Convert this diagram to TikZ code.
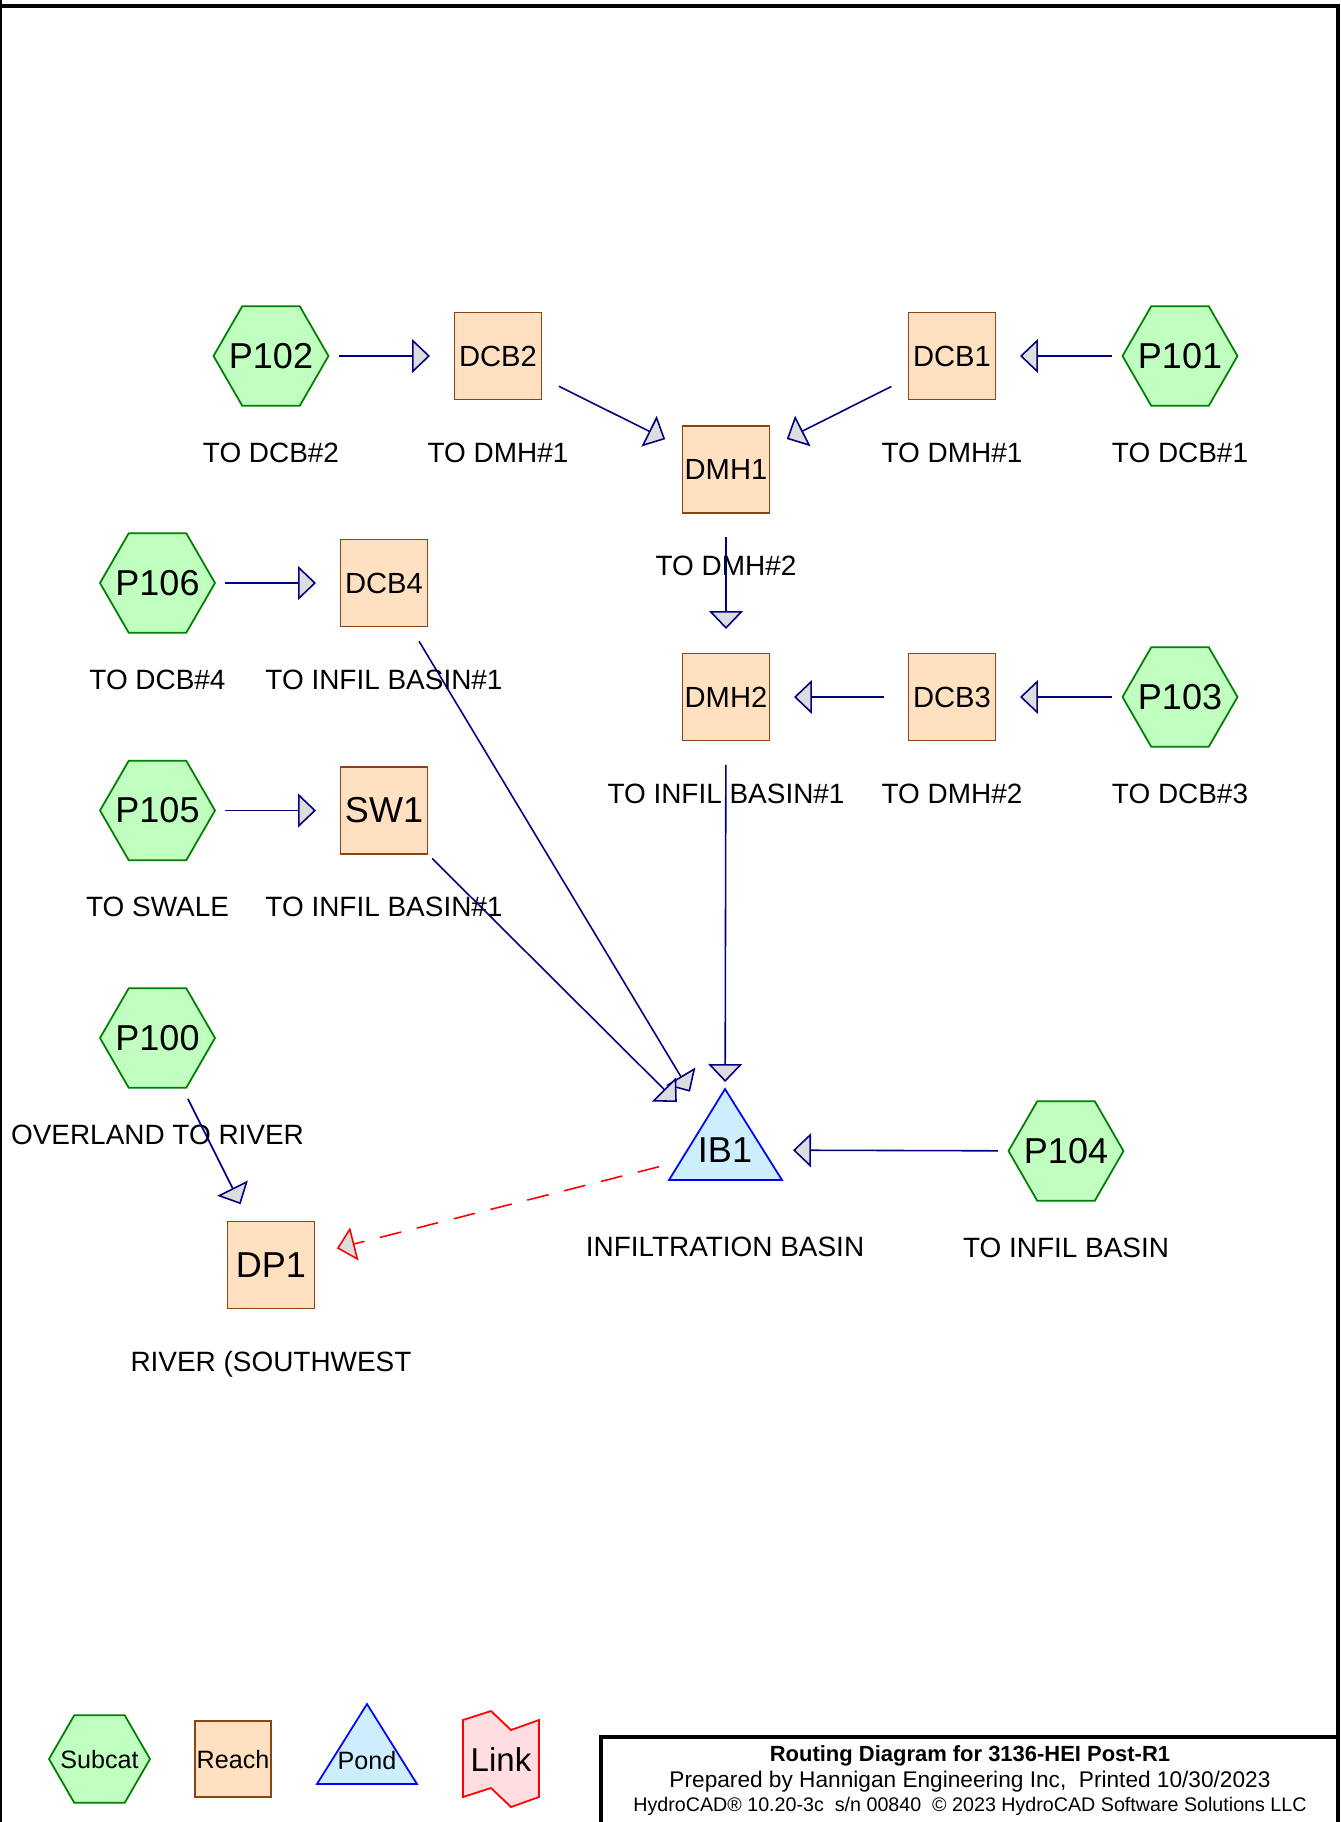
\documentclass[tikz,border=0pt]{standalone}
\usepackage{fontspec}
\setmainfont{Liberation Sans}
\usetikzlibrary{arrows.meta,shapes.geometric}
\definecolor{subfill}{HTML}{C0FFC0}
\definecolor{subdraw}{HTML}{008000}
\definecolor{reachfill}{HTML}{FFE0C0}
\definecolor{reachdraw}{HTML}{8B4513}
\definecolor{pondfill}{HTML}{CCEEFF}
\definecolor{pondblue}{HTML}{0000FF}
\definecolor{linkfill}{HTML}{FFDDE0}
\definecolor{flownavy}{HTML}{000080}
\definecolor{headgray}{HTML}{DDDDDD}
\tikzset{
  subcat/.style={regular polygon, regular polygon sides=6, draw=subdraw, fill=subfill, line width=1pt, minimum size=2.3cm, inner sep=0pt},
  subtxt/.style={font=\fontsize{20.5pt}{24pt}\selectfont, inner sep=0pt},
  reach/.style={rectangle, draw=reachdraw, fill=reachfill, line width=1pt, minimum size=1.74cm, inner sep=0pt, font=\fontsize{16.6pt}{19pt}\selectfont},
  bigreach/.style={reach, font=\fontsize{20.5pt}{24pt}\selectfont},
  pond/.style={draw=pondblue, fill=pondfill, line width=1pt},
  linkshape/.style={draw=red, fill=linkfill, line width=1pt},
  lbl/.style={font=\fontsize{15.9pt}{19pt}\selectfont, inner sep=0pt, text height=0.4cm, text depth=0pt},
  legendtxt/.style={font=\fontsize{14.3pt}{17pt}\selectfont, inner sep=0pt},
  flow/.style={draw=flownavy, line width=0.9pt, shorten <=1.36cm, shorten >=1.36cm, -{Triangle[length=0.36cm, width=0.68cm, fill=headgray]}},
  outflow/.style={flow, draw=red, dash pattern=on 0.44cm off 0.32cm},
  frame/.style={line width=2.3pt}
}
\begin{document}
\begin{tikzpicture}[x=0.02cm, y=0.02cm]
  \useasboundingbox (0,0) rectangle (1340,-1822);
  \draw[line width=0.85pt] (1,0) -- (1,-1822);
  \draw[frame] (0,-6) -- (1338,-6) -- (1338,-1822);

  % subcatchments
  \foreach \n/\x/\y/\t in {P102/271/356/TO DCB\#2, P101/1180/356/TO DCB\#1, P106/157.5/583/TO DCB\#4,
      P103/1180/697/TO DCB\#3, P105/157.5/810.5/TO SWALE, P100/157.5/1038/OVERLAND TO RIVER,
      P104/1066/1151/TO INFIL BASIN} {
    \node[subcat, label={[subtxt]center:\n}] (\n) at (\x,-\y) {};
    \node[lbl] (\n-lbl) at (\x,-\y-96) {\t};
  }

  % reaches
  \foreach \n/\x/\y/\t in {DCB2/498/356/TO DMH\#1, DCB1/952/356/TO DMH\#1, DMH1/726/469.5/TO DMH\#2,
      DCB4/384/583/TO INFIL BASIN\#1, DMH2/726/697/TO INFIL BASIN\#1, DCB3/952/697/TO DMH\#2} {
    \node[reach] (\n) at (\x,-\y) {\n};
    \node[lbl] (\n-lbl) at (\x,-\y-96) {\t};
  }
  \node[bigreach] (SW1) at (384,-810.5) {SW1};
  \node[lbl] (SW1-lbl) at (384,-906.5) {TO INFIL BASIN\#1};
  \node[bigreach] (DP1) at (271,-1265) {DP1};
  \node[lbl] (DP1-lbl) at (271,-1361) {RIVER (SOUTHWEST};

  % pond
  \draw[pond] (669,-1180) -- (725,-1089) -- (782,-1180) -- cycle;
  \node[font=\fontsize{20.5pt}{24pt}\selectfont, inner sep=0pt] (IB1) at (725,-1150) {IB1};
  \node[lbl] (IB1-lbl) at (725,-1246) {INFILTRATION BASIN};

  \foreach \a/\b in {P102/DCB2, DCB2/DMH1, P101/DCB1, DCB1/DMH1, DMH1/DMH2, P106/DCB4, DCB4/IB1,
      P103/DCB3, DCB3/DMH2, DMH2/IB1, P105/SW1, SW1/IB1, P104/IB1, P100/DP1}
    \draw[flow] (\a.center) -- (\b.center);
  \draw[outflow] (IB1.center) -- (DP1.center);

  % legend
  \node[subcat, minimum size=2.02cm, label={[legendtxt]center:Subcat}] (lgSub) at (99.5,-1759) {};
  \node[reach, minimum size=1.52cm, legendtxt] (lgReach) at (233,-1759) {Reach};
  \draw[pond] (317,-1784) -- (367,-1704) -- (417,-1784) -- cycle;
  \node[legendtxt] (lgPond) at (367,-1760) {Pond};
  \draw[linkshape] (463,-1720) -- (491,-1711) -- (511,-1730) -- (539,-1720) -- (539,-1797)
    -- (511,-1807) -- (491,-1788) -- (463,-1797) -- cycle;
  \node[legendtxt, font=\fontsize{18.8pt}{22pt}\selectfont] (lgLink) at (501,-1760) {Link};

  % title block
  \draw[frame] (601,-1822) -- (601,-1737) -- (1338,-1737);
  \node[font=\bfseries\fontsize{12.5pt}{15pt}\selectfont] (ttl) at (970,-1756) {Routing Diagram for 3136-HEI Post-R1};
  \node[font=\fontsize{12.9pt}{15pt}\selectfont] (prep) at (970,-1782) {Prepared by Hannigan Engineering Inc,\ \ Printed 10/30/2023};
  \node[font=\fontsize{11.2pt}{13pt}\selectfont] (ver) at (970,-1806) {HydroCAD® 10.20-3c\ \ s/n 00840\ \ © 2023 HydroCAD Software Solutions LLC};
\end{tikzpicture}
\end{document}
